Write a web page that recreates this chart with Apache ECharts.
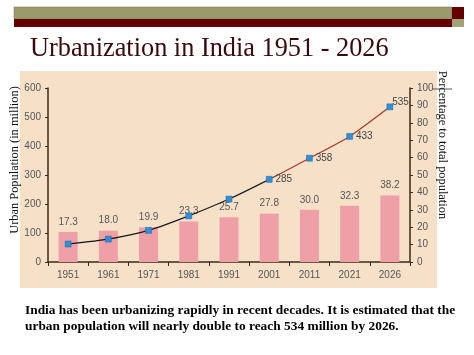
<!DOCTYPE html>
<html>
<head>
<meta charset="utf-8">
<script src="https://cdn.jsdelivr.net/npm/echarts@6/dist/echarts.min.js"></script>
<style>
html,body{margin:0;padding:0;background:#fff;}
#c{width:474px;height:355px;}
</style>
</head>
<body>
<div id="c"></div>
<script>
var categories = ['1951','1961','1971','1981','1991','2001','2011','2021','2026'];
var urbanPopulation = [62, 79, 109, 159, 217, 285, 358, 433, 535];
var percentUrban = [17.3, 18.0, 19.9, 23.3, 25.7, 27.8, 30.0, 32.3, 38.2];
var leftTicks = [0, 100, 200, 300, 400, 500, 600];
var rightTicks = [0, 10, 20, 30, 40, 50, 60, 70, 80, 90, 100];
var labeledYears = ['2001','2011','2021','2026'];

var chart = echarts.init(document.getElementById('c'), null, {renderer:'canvas'});
var axisCol = '#3b2a1c';
var tickCol = '#555';

var lineData = urbanPopulation.map(function(v, i){
  var show = labeledYears.indexOf(categories[i]) >= 0;
  var item = {value: v, label: {show: show}};
  if (categories[i] === '2026') { item.label.offset = [-4, -5]; }
  return item;
});

var option = {
  animation: false,
  backgroundColor: '#fff',
  graphic: [
    {type:'rect', shape:{x:14,y:7,width:438,height:12}, style:{fill:'#9a9a6a', stroke:'#6e6e4a', lineWidth:0.5}, z:-10},
    {type:'rect', shape:{x:14,y:19,width:438,height:8}, style:{fill:'#660000'}, z:-10},
    {type:'rect', shape:{x:452,y:7,width:12,height:12}, style:{fill:'#660000'}, z:-10},
    {type:'rect', shape:{x:452,y:19,width:12,height:8}, style:{fill:'#a3a376'}, z:-10},
    {type:'text', x:30, y:62, style:{text:'Urbanization in India 1951 - 2026', font:'26.3px "Liberation Serif", "Times New Roman", serif', fill:'#3a0a0a', textVerticalAlign:'bottom'}},
    {type:'rect', shape:{x:20,y:71,width:417,height:217}, style:{fill:'#f6e1c8'}, z:-20},
    {type:'text', x:15, y:160, rotation:Math.PI/2, style:{text:'Urban Population (in million)', font:'12.4px "Liberation Serif", "Times New Roman", serif', fill:'#111', textAlign:'center', textVerticalAlign:'middle'}},
    {type:'text', x:442, y:145, rotation:-Math.PI/2, style:{text:'Percentage to total population', font:'12.4px "Liberation Serif", "Times New Roman", serif', fill:'#111', textAlign:'center', textVerticalAlign:'middle'}},
    {type:'line', shape:{x1:432,y1:89,x2:452,y2:89}, style:{stroke:'#333', lineWidth:0.8}},
    {type:'text', x:25, y:311, style:{text:'India has been urbanizing rapidly in recent decades. It is estimated that the', font:'bold 13.4px "Liberation Serif", "Times New Roman", serif', fill:'#000', textVerticalAlign:'middle'}},
    {type:'text', x:25, y:327, style:{text:'urban population will nearly double to reach 534 million by 2026.', font:'bold 13.4px "Liberation Serif", "Times New Roman", serif', fill:'#000', textVerticalAlign:'middle'}}
  ],
  grid: {left:48, right:64, top:88, bottom:93, containLabel:false},
  xAxis: {
    type:'category', data:categories, boundaryGap:true,
    axisLine:{lineStyle:{color:axisCol, width:1.5}},
    axisTick:{show:true, length:4, lineStyle:{color:axisCol}},
    axisLabel:{color:tickCol, fontSize:10, fontFamily:'Arial, "Liberation Sans", sans-serif', margin:8}
  },
  yAxis: [
    {type:'value', min:leftTicks[0], max:leftTicks[leftTicks.length-1], interval:100, position:'left',
     axisLine:{show:true, lineStyle:{color:axisCol, width:1.5}},
     axisTick:{show:true, length:3, lineStyle:{color:axisCol}},
     splitLine:{show:false},
     axisLabel:{color:tickCol, fontSize:10, fontFamily:'Arial, "Liberation Sans", sans-serif', margin:7}},
    {type:'value', min:rightTicks[0], max:rightTicks[rightTicks.length-1], interval:10, position:'right',
     axisLine:{show:true, lineStyle:{color:axisCol, width:1.5}},
     axisTick:{show:true, length:3, lineStyle:{color:axisCol}},
     splitLine:{show:false},
     axisLabel:{color:tickCol, fontSize:10, fontFamily:'Arial, "Liberation Sans", sans-serif', margin:7}}
  ],
  series: [
    {type:'bar', yAxisIndex:1, data:percentUrban, barWidth:19,
     itemStyle:{color:'#ef9fa6'},
     label:{show:true, position:'top', distance:5, color:'#555', fontSize:10, fontFamily:'Arial, "Liberation Sans", sans-serif',
       formatter:function(p){return p.value.toFixed(1);}}},
    {type:'line', yAxisIndex:0, data:lineData, smooth:0.2,
     symbol:'rect', symbolSize:6,
     itemStyle:{color:'#2f8fd8', borderColor:'#1d6aa8', borderWidth:0.5},
     lineStyle:{width:1.2, color:new echarts.graphic.LinearGradient(0,0,1,0,[
       {offset:0,color:'#111'},{offset:0.6,color:'#222'},{offset:0.66,color:'#b4342a'},{offset:1,color:'#b4342a'}])},
     label:{position:'right', distance:3, color:'#444', fontSize:10, fontFamily:'Arial, "Liberation Sans", sans-serif'},
     z:5}
  ]
};
chart.setOption(option);
</script>
</body>
</html>
